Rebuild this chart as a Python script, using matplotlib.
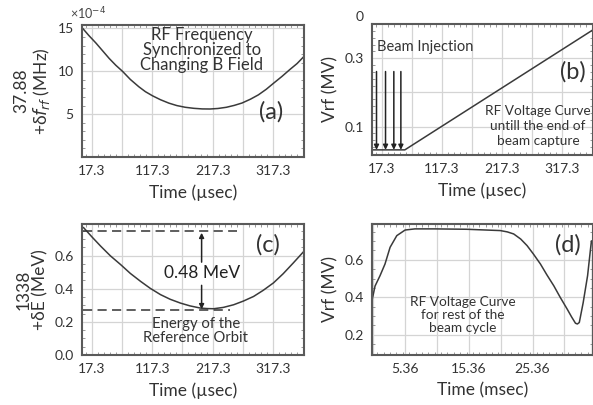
import matplotlib
matplotlib.use("Agg")
import matplotlib.pyplot as plt
from matplotlib.ticker import FixedLocator, MultipleLocator

plt.rcParams["font.family"] = ["Lato", "DejaVu Sans"]
plt.rcParams["mathtext.fontset"] = "dejavusans"
plt.rcParams["text.color"] = "#333333"
plt.rcParams["axes.labelcolor"] = "#333333"

W, H = 593, 405

# --- (a) rf frequency offset, x1e-4 MHz ---
t_a = [1, 12, 24, 35, 46, 57, 68, 81, 95, 106, 118, 131, 145, 158, 172, 186, 200,
       213, 226, 240, 253, 266, 280, 293, 306, 318, 332, 345, 357, 368]
df_a = [15.1, 14.2, 13.3, 12.4, 11.5, 10.7, 10.0, 9.05, 8.2, 7.62, 7.13, 6.68, 6.28,
        6.0, 5.8, 5.68, 5.61, 5.6, 5.66, 5.8, 6.02, 6.3, 6.75, 7.25, 7.9, 8.6, 9.4,
        10.2, 10.9, 11.7]

# --- (b) rf voltage ramp during capture ---
t_b = [1, 55.6, 368.5]
vrf_b = [0.032, 0.032, 0.383]
inject_t = [8.5, 23.5, 37.3, 49]
inject_top = 0.261

# --- (c) energy offset ---
t_c = [3.6, 18, 32, 48, 65, 81, 98, 114, 131, 147, 164, 180, 197, 208, 219, 235,
       252, 268, 285, 301, 318, 334, 351, 362, 369]
de_c = [0.768, 0.71, 0.656, 0.598, 0.545, 0.492, 0.444, 0.402, 0.364, 0.336, 0.313,
        0.296, 0.283, 0.280, 0.279, 0.287, 0.303, 0.325, 0.353, 0.39, 0.435, 0.49,
        0.556, 0.6, 0.628]
e_top, e_ref = 0.747, 0.273

# --- (d) rf voltage over the cycle (ms) ---
t_d = [0.2, 0.64, 1.42, 2.2, 3.0, 4.05, 5.36, 6.9, 10, 15, 20.3, 21.4, 22.4, 23.5,
       24.5, 25.5, 26.6, 27.6, 28.7, 29.7, 30.8, 31.5, 32.1, 32.4, 32.7, 33.3, 34.0,
       34.6, 34.8, 34.8]
vrf_d = [0.39, 0.46, 0.515, 0.577, 0.666, 0.728, 0.758, 0.764, 0.764, 0.762, 0.755,
         0.748, 0.737, 0.71, 0.675, 0.63, 0.577, 0.52, 0.461, 0.40, 0.337, 0.295,
         0.262, 0.258, 0.266, 0.37, 0.515, 0.70, 0.70, 0.0]

us_ticks = [17.3, 117.3, 217.3, 317.3]
ms_ticks = [5.36, 15.36, 25.36]

LINE = "#3a3a3a"
SPINE = "#5a5a5a"
GRID = "#d4d4d4"


def px_axes(fig, left, top, right, bottom):
    return fig.add_axes([left / W, 1 - bottom / H, (right - left) / W, (bottom - top) / H])


def fig_text(fig, x, y, s, **kw):
    fig.text(x / W, 1 - y / H, s, ha=kw.pop("ha", "center"), va=kw.pop("va", "center"), **kw)


def style_ax(ax):
    for sp in ax.spines.values():
        sp.set_color(SPINE)
        sp.set_linewidth(1.5)
    ax.grid(True, which="major", color=GRID, lw=0.9)
    ax.tick_params(which="major", length=0, labelsize=10, pad=6, colors="#333333")
    ax.tick_params(which="minor", direction="in", length=2.5, color="#888888",
                   top=True, right=True)
    ax.set_axisbelow(True)


def us_axis(ax):
    ax.set_xlim(1, 368.5)
    major = [17.3 + 50 * k for k in range(7)]
    ax.xaxis.set_major_locator(FixedLocator(major))
    ax.set_xticklabels([f"{m:.1f}" if m in us_ticks else "" for m in major])
    ax.xaxis.set_minor_locator(FixedLocator([7.3 + 10 * k for k in range(37)]))
    ax.set_xlabel("Time (\u00b5sec)", fontsize=12.5, labelpad=5)


def arrow(ax, x0, y0, x1, y1):
    ax.annotate("", xy=(x1, y1), xytext=(x0, y0),
                arrowprops=dict(arrowstyle="-|>", color="#222222", lw=1.1,
                                mutation_scale=7, shrinkA=0, shrinkB=0))


fig = plt.figure(figsize=(W / 100, H / 100), dpi=100)

# (a)
ax = px_axes(fig, 82, 25, 304, 157)
style_ax(ax)
ax.plot(t_a, df_a, color=LINE, lw=1.1)
us_axis(ax)
ax.set_ylim(0, 15.4)
ax.yaxis.set_major_locator(FixedLocator([5, 10, 15]))
ax.yaxis.set_minor_locator(MultipleLocator(1))
ax.set_ylabel("37.88\n+\u03b4$f_{rf}$ (MHz)", fontsize=12.5, labelpad=4, linespacing=1.1)
fig_text(fig, 88, 14, "\u00d710$^{-4}$", fontsize=9, color="#444444")
fig_text(fig, 202, 50, "RF Frequency\nSynchronized to\nChanging B Field",
         fontsize=12, linespacing=0.95)
fig_text(fig, 271, 112, "(a)", fontsize=17)

# (b)
ax = px_axes(fig, 372, 24, 593, 155)
style_ax(ax)
ax.plot(t_b, vrf_b, color=LINE, lw=1.1)
us_axis(ax)
ax.set_ylim(0.017, 0.4)
ax.yaxis.set_major_locator(FixedLocator([0.1, 0.2, 0.3]))
ax.set_yticklabels(["0.1", "", "0.3"])
ax.yaxis.set_minor_locator(MultipleLocator(0.02))
ax.set_ylabel("Vrf (MV)", fontsize=12.5, labelpad=4)
for t in inject_t:
    arrow(ax, t, inject_top, t, vrf_b[0])
fig_text(fig, 364, 17, "0", fontsize=10, ha="right")
fig_text(fig, 377, 47, "Beam Injection", fontsize=10.5, ha="left")
fig_text(fig, 538, 126, "RF Voltage Curve\nuntill the end of\nbeam capture",
         fontsize=9.8, linespacing=1.3)
fig_text(fig, 573, 72, "(b)", fontsize=17)

# (c)
ax = px_axes(fig, 82, 224, 304, 355)
style_ax(ax)
ax.plot(t_c, de_c, color=LINE, lw=1.1)
us_axis(ax)
ax.set_ylim(0, 0.79)
ax.yaxis.set_major_locator(FixedLocator([0.0, 0.2, 0.4, 0.6]))
ax.set_yticklabels(["0.0", "0.2", "0.4", "0.6"])
ax.yaxis.set_minor_locator(MultipleLocator(0.05))
ax.set_ylabel("1338\n+\u03b4E (MeV)", fontsize=12.5, labelpad=4, linespacing=1.1)
ax.plot([3, 258], [e_top, e_top], color="#333333", lw=1.1, ls=(0, (6, 3.5)))
ax.plot([3, 246], [e_ref, e_ref], color="#333333", lw=1.1, ls=(0, (6, 3.5)))
arrow(ax, 199, 0.56, 199, e_top - 0.01)
arrow(ax, 199, 0.42, 199, e_ref + 0.003)
fig_text(fig, 202, 273, "0.48 MeV", fontsize=12.5, color="#222222")
fig_text(fig, 196, 331, "Energy of the\nReference Orbit", fontsize=10.7,
         linespacing=0.95)
fig_text(fig, 268, 245, "(c)", fontsize=17)

# (d)
ax = px_axes(fig, 372, 224, 593, 355)
style_ax(ax)
ax.plot(t_d, vrf_d, color=LINE, lw=1.1)
ax.set_xlim(0.16, 34.85)
major = [0.36 + 5 * k for k in range(7)]
ax.xaxis.set_major_locator(FixedLocator(major))
ax.set_xticklabels([f"{m:.2f}" if round(m, 2) in ms_ticks else "" for m in major])
ax.xaxis.set_minor_locator(MultipleLocator(1))
ax.set_xlabel("Time (msec)", fontsize=12.5, labelpad=5)
ax.set_ylim(0.093, 0.79)
ax.yaxis.set_major_locator(FixedLocator([0.2, 0.4, 0.6]))
ax.yaxis.set_minor_locator(MultipleLocator(0.05))
ax.set_ylabel("Vrf (MV)", fontsize=12.5, labelpad=4)
fig_text(fig, 463, 315, "RF Voltage Curve\nfor rest of the\nbeam cycle",
         fontsize=9.8, linespacing=1.1)
fig_text(fig, 568, 245, "(d)", fontsize=17)

fig.savefig("out.png", dpi=100, facecolor="white")
